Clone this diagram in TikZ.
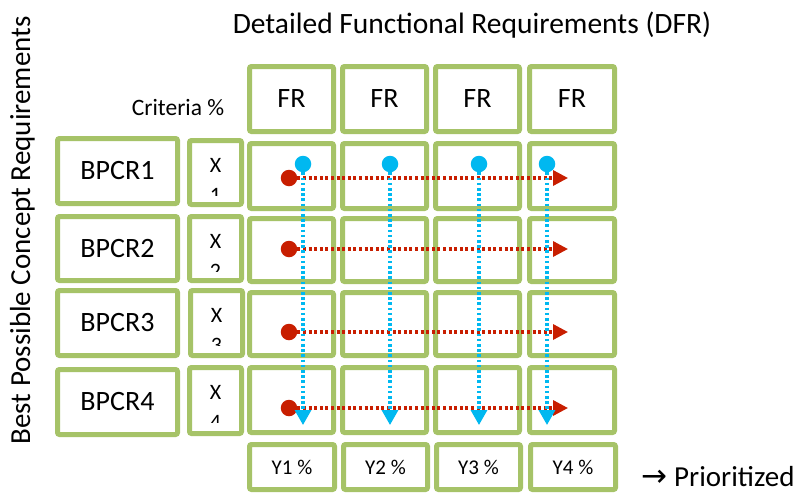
\documentclass[tikz,border=0pt]{standalone}
\usepackage{fontspec}
\setmainfont{Carlito}
\newfontfamily\symfont{DejaVu Sans}
\usetikzlibrary{arrows.meta}
\definecolor{boxgreen}{RGB}{166,195,104}
\definecolor{dotred}{RGB}{200,30,0}
\definecolor{dotblue}{RGB}{0,184,240}

% a framed cell given by its outer edges: name, x1, y1, x2, y2, text
\newcommand\gridbox[6]{%
  \pgfmathsetmacro\cellw{#4-#2-5}\pgfmathsetmacro\cellh{#5-#3-5}%
  \node[cell, minimum width=\cellw pt, minimum height=\cellh pt] (#1)
    at ({(#2+#4)/2},{(#3+#5)/2}) {#6};}

% a weight cell: X with its index partly hidden below
\newcommand\weightbox[6]{% name, x1, y1, x2, y2, index
  \gridbox{#1}{#2}{#3}{#4}{#5}{}%
  \node[wtext] (#1x) at ({(#2+#4)/2},{#3+27}) {X};
  \begin{scope}
    \clip (#2,#3) rectangle (#4,{#3+57});
    \node[wtext, anchor=north, inner sep=0pt] (#1i) at ({(#2+#4)/2},{#3+50}) {#6};
  \end{scope}}

\begin{document}
\begin{tikzpicture}[x=1pt,y=-1pt,
  cell/.style={draw=boxgreen, line width=5pt, rounded corners=2pt, fill=white,
    inner sep=0pt, font=\fontsize{28}{30}\selectfont},
  wtext/.style={font=\fontsize{22}{24}\selectfont},
  reddot/.style={circle, fill=dotred, minimum size=16.5pt, inner sep=0pt},
  bluedot/.style={circle, fill=dotblue, minimum size=16.5pt, inner sep=0pt},
  redline/.style={draw=dotred, line width=3.3pt, dash pattern=on 3pt off 2.6pt,
    -{Triangle[length=15pt,width=15pt]}},
  blueline/.style={draw=dotblue, line width=3.3pt, dash pattern=on 2.6pt off 2.6pt,
    -{Triangle[length=15pt,width=16pt]}}]
\useasboundingbox (0,0) rectangle (798,493);
\clip (0,0) rectangle (798,493);

% headings
\node[anchor=base, font=\fontsize{29.5}{31}\selectfont] (title) at (472,33)
  {Detailed Functional Requirements (DFR)};
\node[anchor=base west, rotate=90, font=\fontsize{29}{31}\selectfont] (side) at (30,448)
  {Best Possible Concept Requirements};
\node[font=\fontsize{23.5}{25}\selectfont] (crit) at (178,108) {Criteria \%};

% functional requirement headers
\gridbox{fr1}{247}{64}{336}{134}{FR}
\gridbox{fr2}{340}{64}{429}{134}{FR}
\gridbox{fr3}{433}{64}{522}{134}{FR}
\gridbox{fr4}{527}{64}{617}{134}{FR}

% concept requirements
\gridbox{bp1}{55}{136}{180}{206}{BPCR1}
\gridbox{bp2}{55}{214}{180}{283}{BPCR2}
\gridbox{bp3}{55}{288}{180}{358}{BPCR3}
\gridbox{bp4}{55}{367}{180}{437}{BPCR4}

% weights
\weightbox{w1}{187}{138}{244}{207}{1}
\weightbox{w2}{187}{214}{244}{283}{2}
\weightbox{w3}{188}{288}{245}{358}{3}
\weightbox{w4}{187}{365}{244}{436}{4}

% matrix cells
\foreach \r/\ya/\yb in {1/141/211, 2/216/284, 3/290/358, 4/365/435}{
  \gridbox{m\r a}{247}{\ya}{336}{\yb}{}
  \gridbox{m\r b}{340}{\ya}{429}{\yb}{}
  \gridbox{m\r c}{433}{\ya}{522}{\yb}{}
  \gridbox{m\r d}{527}{\ya}{617}{\yb}{}
}

% column totals
\gridbox{y1}{247}{442}{337}{492}{\fontsize{21}{23}\selectfont Y1 \%}
\gridbox{y2}{341}{442}{430}{492}{\fontsize{21}{23}\selectfont Y2 \%}
\gridbox{y3}{434}{442}{523}{492}{\fontsize{21}{23}\selectfont Y3 \%}
\gridbox{y4}{528}{442}{618}{492}{\fontsize{21}{23}\selectfont Y4 \%}

\node[anchor=base west, font=\fontsize{29}{31}\selectfont, inner sep=0pt] (prio) at (641,486)
  {{\symfont\fontsize{31}{33}\selectfont →}\hspace{7pt}Prioritized};

% row sweeps
\foreach \i/\yy in {1/178, 2/249, 3/332, 4/408}{
  \node[reddot] (rd\i) at (289,\yy) {};
  \coordinate (rt\i) at (568,\yy);
  \draw[redline] (rd\i) -- (rt\i);
}

% column sweeps
\foreach \j/\xx in {1/303, 2/390, 3/479, 4/547}{
  \node[bluedot] (bd\j) at (\xx,164) {};
  \coordinate (bt\j) at (\xx,425);
  \draw[blueline] (bd\j) -- (bt\j);
}
\end{tikzpicture}
\end{document}
